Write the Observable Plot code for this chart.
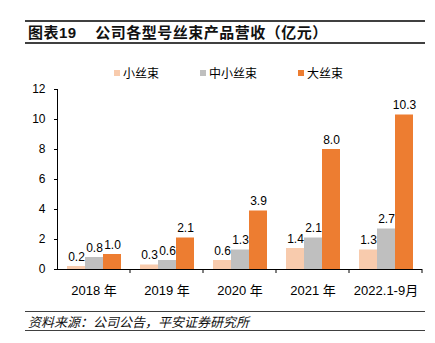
<!DOCTYPE html>
<html><head><meta charset="utf-8">
<script src="https://cdn.jsdelivr.net/npm/d3@7"></script>
<script src="https://cdn.jsdelivr.net/npm/@observablehq/plot@0.6"></script>
<style>
body{margin:0;width:435px;height:343px;position:relative;background:#fff;overflow:hidden;font-family:"Liberation Sans","Noto Sans CJK SC",sans-serif;color:#000}
.rule{position:absolute;left:25px;width:400px;background:#404040}
#title{position:absolute;left:28px;top:22px;font-size:15px;line-height:22px;font-weight:bold;font-family:"Liberation Sans","Noto Sans CJK SC",sans-serif;letter-spacing:0.5px;white-space:pre;color:#111}
#legend{position:absolute;left:114px;top:64px;display:flex;gap:41px;font-size:12px;line-height:18px;font-family:"Noto Sans CJK SC",sans-serif}
#legend .item{display:flex;align-items:center}
#legend .sw{width:6px;height:6px;margin-right:3px}
#chart{position:absolute;left:0;top:80px}
#foot{position:absolute;left:28px;top:313px;font-size:13px;line-height:18px;font-style:italic;font-family:"Noto Sans CJK SC",sans-serif;color:#111}
</style></head>
<body>
<div class="rule" style="top:20px;height:1.5px"></div>
<div id="title">图表19    公司各型号丝束产品营收（亿元）</div>
<div class="rule" style="top:42px;height:1.5px"></div>
<div id="legend"></div>
<div id="chart"></div>
<div class="rule" style="top:311px;height:1.2px"></div>
<div id="foot">资料来源：公司公告，平安证券研究所</div>
<div class="rule" style="top:330px;height:1.2px"></div>
<script>
const years = ["2018 年", "2019 年", "2020 年", "2021 年", "2022.1-9月"];
const series = ["小丝束", "中小丝束", "大丝束"];
const smallTow = [0.2, 0.3, 0.6, 1.4, 1.3];
const midSmallTow = [0.8, 0.6, 1.3, 2.1, 2.7];
const largeTow = [1.0, 2.1, 3.9, 8.0, 10.3];
const colors = ["#F8CBAD", "#BFBFBF", "#ED7D31"];
const yTicks = [0, 2, 4, 6, 8, 10, 12];

const valuesBySeries = [smallTow, midSmallTow, largeTow];
const data = [];
years.forEach((year, i) => {
  series.forEach((s, j) => data.push({year, series: s, value: valuesBySeries[j][i]}));
});
const fmt = d3.format(".1f");

// legend
const legend = d3.select("#legend");
series.forEach((s, j) => {
  const it = legend.append("div").attr("class", "item");
  it.append("div").attr("class", "sw").style("background", colors[j]);
  it.append("span").text(s);
});

const chart = Plot.plot({
  width: 435,
  height: 220,
  marginTop: 9,
  marginBottom: 31,
  marginLeft: 57,
  marginRight: 13,
  style: {fontFamily: "'Liberation Sans','Noto Sans CJK SC',sans-serif", fontSize: "12px", color: "#000", background: "transparent"},
  fx: {domain: years, padding: 0, label: null},
  x: {domain: series, paddingInner: 0, paddingOuter: 0.5, axis: null},
  y: {domain: [0, 12], ticks: yTicks, tickSize: 3, tickPadding: 9, label: null, line: true},
  color: {domain: series, range: colors},
  marks: [
    Plot.barY(data, {fx: "year", x: "series", y: "value", fill: "series"}),
    Plot.ruleY([0], {stroke: "#000"}),
    Plot.text(data, {fx: "year", x: "series", y: "value", text: d => fmt(d.value), lineAnchor: "bottom", dy: -6, fontSize: 12, fill: "#000"}),
    Plot.axisFx({anchor: "bottom", tickSize: 0, tickPadding: 16, fontSize: 13, label: null})
  ]
});
document.getElementById("chart").appendChild(chart);

// category boundary ticks on the x axis
const fx = chart.scale("fx");
const y0 = chart.scale("y").apply(0);
const svg = d3.select(chart);
years.forEach(yr => {
  const xr = fx.apply(yr) + fx.bandwidth;
  svg.append("line").attr("x1", xr).attr("x2", xr).attr("y1", y0).attr("y2", y0 + 4)
    .attr("stroke", "#000");
});
</script>
</body></html>
